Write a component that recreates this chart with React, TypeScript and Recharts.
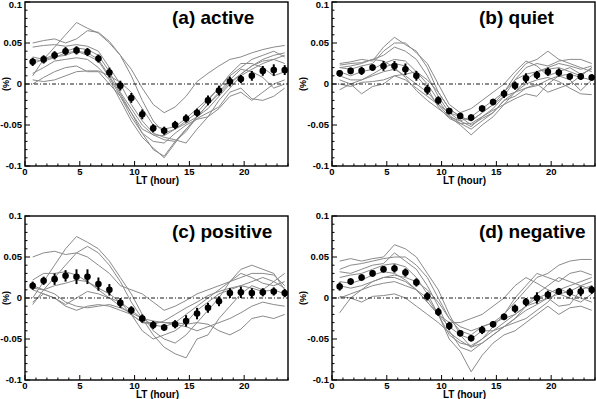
import React from "react";
import {
  ComposedChart,
  Line,
  XAxis,
  YAxis,
  ReferenceLine,
  ErrorBar,
} from "recharts";

// local time of each bin (hour)
const lt = [0.7, 1.7, 2.7, 3.7, 4.7, 5.7, 6.7, 7.7, 8.7, 9.7, 10.7, 11.7, 12.7, 13.7, 14.7, 15.7, 16.7, 17.7, 18.7, 19.7, 20.7, 21.7, 22.7, 23.7];

const hourTicks = [0, 1, 2, 3, 4, 5, 6, 7, 8, 9, 10, 11, 12, 13, 14, 15, 16, 17, 18, 19, 20, 21, 22, 23, 24];
const hourLabels = [0, 5, 10, 15, 20];
const pctTicks = [-0.1, -0.09, -0.08, -0.07, -0.06, -0.05, -0.04, -0.03, -0.02, -0.01, 0, 0.01, 0.02, 0.03, 0.04, 0.05, 0.06, 0.07, 0.08, 0.09, 0.1];
const pctLabels = [-0.1, -0.05, 0, 0.05, 0.1];

// (a) active
const activeMean = [0.027, 0.030, 0.035, 0.040, 0.041, 0.039, 0.031, 0.014, -0.002, -0.017, -0.037, -0.054, -0.057, -0.050, -0.042, -0.035, -0.020, -0.008, 0.003, 0.006, 0.010, 0.016, 0.017, 0.017];
const activeErr = [0.005, 0.005, 0.005, 0.005, 0.005, 0.005, 0.005, 0.006, 0.006, 0.006, 0.006, 0.005, 0.005, 0.005, 0.005, 0.005, 0.006, 0.006, 0.006, 0.005, 0.006, 0.006, 0.007, 0.006];
const activeLines = [
  [0.010, 0.030, 0.045, 0.060, 0.075, 0.068, 0.062, 0.050, 0.035, 0.018, -0.005, -0.025, -0.035, -0.028, -0.015, 0.003, 0.013, 0.022, 0.030, 0.033, 0.038, 0.042, 0.045, 0.047],
  [0.050, 0.053, 0.055, 0.050, 0.055, 0.065, 0.063, 0.052, 0.035, 0.010, -0.020, -0.045, -0.060, -0.055, -0.048, -0.040, -0.030, -0.015, 0.000, 0.012, 0.022, 0.030, 0.035, 0.038],
  [0.045, 0.047, 0.048, 0.046, 0.048, 0.046, 0.040, 0.020, 0.000, -0.025, -0.045, -0.060, -0.065, -0.068, -0.072, -0.055, -0.040, -0.020, -0.005, 0.010, 0.018, 0.025, 0.030, 0.035],
  [0.033, 0.030, 0.036, 0.040, 0.044, 0.042, 0.035, 0.015, -0.010, -0.030, -0.050, -0.062, -0.063, -0.055, -0.045, -0.035, -0.020, -0.005, 0.010, 0.020, 0.030, 0.035, 0.040, 0.033],
  [0.030, 0.028, 0.032, 0.038, 0.040, 0.038, 0.030, 0.010, -0.012, -0.035, -0.060, -0.080, -0.088, -0.070, -0.055, -0.040, -0.025, -0.012, 0.002, 0.012, 0.022, 0.028, 0.030, 0.025],
  [0.025, 0.030, 0.033, 0.035, 0.040, 0.035, 0.028, 0.008, -0.015, -0.040, -0.060, -0.070, -0.072, -0.060, -0.050, -0.043, -0.040, -0.030, -0.015, -0.010, -0.020, -0.010, 0.000, 0.005],
  [0.013, 0.020, 0.028, 0.030, 0.032, 0.030, 0.020, 0.005, -0.020, -0.045, -0.065, -0.078, -0.090, -0.072, -0.055, -0.042, -0.035, -0.028, -0.010, -0.005, -0.018, -0.020, -0.015, -0.005],
  [0.000, 0.008, 0.015, 0.020, 0.022, 0.015, 0.015, 0.000, -0.015, -0.035, -0.055, -0.062, -0.068, -0.070, -0.058, -0.040, -0.025, -0.010, 0.005, 0.018, 0.015, 0.008, -0.005, 0.000],
  [0.005, 0.003, 0.005, 0.010, 0.015, 0.016, 0.016, 0.010, 0.002, -0.010, -0.030, -0.050, -0.055, -0.052, -0.042, -0.030, -0.018, -0.005, 0.012, 0.025, 0.025, 0.020, 0.010, 0.015],
];

// (b) quiet
const quietMean = [0.013, 0.016, 0.016, 0.020, 0.022, 0.022, 0.018, 0.010, -0.007, -0.020, -0.033, -0.039, -0.041, -0.030, -0.022, -0.012, -0.002, 0.007, 0.011, 0.015, 0.014, 0.009, 0.009, 0.008];
const quietErr = [0.004, 0.004, 0.005, 0.004, 0.006, 0.006, 0.007, 0.006, 0.006, 0.005, 0.004, 0.004, 0.004, 0.004, 0.004, 0.005, 0.005, 0.006, 0.005, 0.005, 0.005, 0.004, 0.004, 0.004];
const quietLines = [
  [0.025, 0.027, 0.030, 0.028, 0.045, 0.057, 0.048, 0.040, 0.020, -0.010, -0.030, -0.040, -0.045, -0.035, -0.025, -0.010, 0.010, 0.025, 0.030, 0.040, 0.030, 0.025, 0.020, 0.015],
  [0.023, 0.025, 0.026, 0.030, 0.035, 0.045, 0.040, 0.030, 0.010, -0.015, -0.035, -0.045, -0.052, -0.040, -0.030, -0.015, 0.005, 0.020, 0.025, 0.022, 0.028, 0.030, 0.030, 0.025],
  [0.020, 0.018, 0.022, 0.025, 0.040, 0.050, 0.050, 0.038, 0.025, 0.000, -0.025, -0.035, -0.030, -0.020, -0.010, 0.000, 0.015, 0.028, 0.022, 0.010, 0.015, 0.020, 0.012, 0.018],
  [0.015, 0.010, 0.015, 0.018, 0.025, 0.030, 0.028, 0.015, 0.000, -0.020, -0.038, -0.048, -0.055, -0.045, -0.035, -0.020, -0.010, 0.005, 0.015, 0.018, 0.020, 0.015, 0.010, 0.020],
  [0.010, 0.005, 0.005, 0.010, 0.015, 0.018, 0.010, 0.000, -0.010, -0.025, -0.040, -0.050, -0.062, -0.050, -0.040, -0.025, -0.010, 0.000, 0.005, 0.008, 0.003, -0.005, -0.012, -0.013],
  [0.005, 0.000, -0.012, -0.003, 0.000, 0.010, 0.005, -0.005, -0.015, -0.025, -0.035, -0.040, -0.045, -0.035, -0.025, -0.015, -0.010, -0.005, 0.000, -0.010, -0.005, 0.000, 0.010, 0.020],
  [-0.007, 0.000, 0.005, 0.012, 0.020, 0.025, 0.022, 0.010, -0.005, -0.028, -0.042, -0.048, -0.048, -0.040, -0.032, -0.025, -0.018, -0.012, -0.015, 0.000, 0.010, 0.005, -0.008, 0.005],
  [0.020, 0.022, 0.025, 0.030, 0.028, 0.020, 0.008, -0.008, -0.020, -0.030, -0.040, -0.045, -0.040, -0.030, -0.020, -0.010, 0.005, 0.012, 0.015, 0.020, 0.025, 0.022, 0.018, 0.022],
  [0.000, -0.003, 0.002, 0.003, 0.005, 0.010, 0.012, 0.015, 0.005, -0.010, -0.030, -0.040, -0.050, -0.042, -0.035, -0.020, -0.015, -0.005, -0.002, 0.005, 0.010, 0.012, 0.008, 0.005],
];

// (c) positive
const positiveMean = [0.015, 0.021, 0.023, 0.027, 0.026, 0.026, 0.017, 0.010, -0.006, -0.015, -0.025, -0.033, -0.036, -0.032, -0.028, -0.019, -0.012, -0.004, 0.006, 0.007, 0.006, 0.007, 0.008, 0.006];
const positiveErr = [0.005, 0.005, 0.007, 0.007, 0.009, 0.009, 0.008, 0.007, 0.006, 0.005, 0.005, 0.005, 0.004, 0.005, 0.007, 0.007, 0.006, 0.006, 0.006, 0.007, 0.006, 0.005, 0.005, 0.005];
const positiveLines = [
  [0.050, 0.055, 0.057, 0.053, 0.055, 0.050, 0.040, 0.030, 0.015, 0.010, 0.005, -0.005, -0.015, -0.010, -0.003, 0.005, 0.010, 0.015, 0.020, 0.025, 0.030, 0.030, 0.028, 0.015],
  [0.000, 0.020, 0.040, 0.060, 0.075, 0.068, 0.060, 0.045, 0.025, 0.005, -0.020, -0.040, -0.050, -0.055, -0.045, -0.030, -0.015, 0.000, 0.020, 0.035, 0.040, 0.035, 0.030, 0.010],
  [-0.008, 0.010, 0.025, 0.040, 0.055, 0.063, 0.055, 0.040, 0.020, -0.005, -0.025, -0.045, -0.060, -0.068, -0.073, -0.050, -0.045, -0.025, -0.010, 0.005, 0.015, 0.010, 0.020, 0.030],
  [0.022, 0.030, 0.030, 0.032, 0.028, 0.020, 0.010, 0.000, -0.005, -0.015, -0.025, -0.033, -0.035, -0.030, -0.020, -0.010, 0.000, 0.010, 0.020, 0.030, 0.025, 0.018, 0.015, 0.020],
  [0.012, 0.010, 0.015, 0.018, 0.022, 0.020, 0.012, 0.005, -0.005, -0.020, -0.040, -0.050, -0.045, -0.040, -0.030, -0.015, -0.005, 0.005, 0.010, 0.015, 0.020, 0.025, 0.020, 0.012],
  [0.010, 0.005, 0.000, -0.008, 0.000, 0.008, 0.005, 0.000, -0.010, -0.020, -0.030, -0.032, -0.028, -0.020, -0.012, -0.005, 0.003, 0.008, 0.012, 0.015, 0.012, 0.008, 0.010, 0.005],
  [-0.005, 0.005, 0.000, -0.010, -0.015, -0.010, -0.008, -0.010, -0.015, -0.020, -0.030, -0.030, -0.030, -0.032, -0.035, -0.040, -0.035, -0.030, -0.025, -0.018, -0.010, -0.005, -0.008, -0.010],
  [0.015, 0.010, 0.005, -0.005, -0.010, -0.012, -0.010, -0.008, -0.012, -0.018, -0.025, -0.028, -0.030, -0.030, -0.032, -0.030, -0.032, -0.040, -0.045, -0.038, -0.025, -0.022, -0.025, -0.020],
];

// (d) negative
const negativeMean = [0.014, 0.020, 0.025, 0.030, 0.035, 0.036, 0.031, 0.019, 0.002, -0.017, -0.034, -0.043, -0.049, -0.039, -0.032, -0.023, -0.013, -0.005, 0.000, 0.004, 0.008, 0.007, 0.008, 0.010];
const negativeErr = [0.005, 0.004, 0.004, 0.004, 0.004, 0.005, 0.005, 0.005, 0.005, 0.005, 0.005, 0.004, 0.004, 0.005, 0.004, 0.004, 0.005, 0.005, 0.007, 0.005, 0.004, 0.005, 0.006, 0.005];
const negativeLines = [
  [0.045, 0.048, 0.045, 0.048, 0.050, 0.065, 0.060, 0.050, 0.030, 0.010, -0.020, -0.045, -0.060, -0.050, -0.035, -0.020, -0.005, 0.010, 0.025, 0.030, 0.040, 0.045, 0.047, 0.047],
  [0.035, 0.040, 0.042, 0.045, 0.048, 0.050, 0.050, 0.040, 0.025, 0.000, -0.025, -0.040, -0.045, -0.035, -0.030, -0.020, 0.000, 0.015, 0.030, 0.025, 0.020, 0.030, 0.033, 0.028],
  [0.032, 0.030, 0.035, 0.040, 0.042, 0.055, 0.045, 0.035, 0.015, -0.010, -0.040, -0.060, -0.065, -0.055, -0.045, -0.035, -0.025, -0.010, 0.005, 0.015, 0.025, 0.020, 0.015, 0.010],
  [0.025, 0.028, 0.030, 0.035, 0.040, 0.042, 0.038, 0.025, 0.005, -0.020, -0.045, -0.055, -0.058, -0.050, -0.040, -0.030, -0.020, -0.010, 0.000, 0.005, 0.012, 0.005, 0.000, -0.005],
  [0.020, 0.018, 0.022, 0.028, 0.032, 0.030, 0.022, 0.010, -0.005, -0.020, -0.030, -0.030, -0.025, -0.020, -0.010, 0.000, 0.015, 0.025, 0.018, 0.010, 0.005, 0.000, -0.005, 0.005],
  [0.015, 0.012, 0.015, 0.020, 0.025, 0.028, 0.025, 0.020, 0.010, -0.005, -0.025, -0.035, -0.040, -0.035, -0.030, -0.025, -0.020, -0.010, -0.005, 0.000, -0.010, -0.008, 0.010, 0.015],
  [0.000, 0.005, 0.010, 0.015, 0.018, 0.020, 0.015, 0.010, 0.000, -0.020, -0.050, -0.065, -0.090, -0.070, -0.055, -0.045, -0.040, -0.030, -0.020, -0.010, -0.020, -0.012, -0.010, -0.015],
  [-0.018, 0.000, 0.010, 0.020, 0.025, 0.025, 0.020, 0.010, -0.005, -0.020, -0.035, -0.045, -0.050, -0.040, -0.040, -0.035, -0.030, -0.025, -0.015, -0.005, 0.010, 0.015, 0.020, 0.025],
  [0.002, 0.000, -0.005, 0.002, 0.003, 0.005, 0.000, -0.010, -0.020, -0.030, -0.042, -0.052, -0.060, -0.055, -0.045, -0.035, -0.025, -0.015, -0.008, 0.000, 0.005, 0.008, 0.015, 0.020],
];

const FONT = "'Liberation Sans', Arial, Helvetica, sans-serif";
const PLOT_W = 263;
const PLOT_H = 164;
const X_AXIS_H = 34;

const near = (a: number, b: number) => Math.abs(a - b) < 1e-9;

function Panel({ left, top, padLeft, padTop, ylabelX, title, mean, err, lines }: any) {
  const rows = lt.map((x, i) => {
    const r: any = { lt: x, mean: mean[i], err: err[i] };
    lines.forEach((l: number[], k: number) => (r["g" + k] = l[i]));
    return r;
  });
  const bottom = padTop + PLOT_H;
  const width = padLeft + PLOT_W + 4;
  const height = bottom + X_AXIS_H;

  const xTick = (p: any) => {
    const v = p.payload.value;
    const major = v % 5 === 0;
    return (
      <g>
        <line x1={p.x} x2={p.x} y1={bottom} y2={bottom - (major ? 5 : 2.5)} stroke="#000" strokeWidth={1} />
        {hourLabels.includes(v) && (
          <text x={p.x} y={bottom + 8.5} textAnchor="middle" fontFamily={FONT} fontWeight="bold" fontSize={9.5} fill="#000">
            {v}
          </text>
        )}
      </g>
    );
  };

  const yTick = (p: any) => {
    const v = p.payload.value;
    const lab = pctLabels.find((l) => near(l, v));
    const major = lab !== undefined;
    // keep the top label inside the page
    const ty = Math.max(p.y, 4.5);
    return (
      <g>
        <line x1={padLeft} x2={padLeft + (major ? 5 : 2.5)} y1={p.y} y2={p.y} stroke="#000" strokeWidth={1} />
        {major && (
          <text x={padLeft - 3} y={ty} dy="0.35em" textAnchor="end" fontFamily={FONT} fontWeight="bold" fontSize={9.5} fill="#000">
            {lab === 0 ? "0" : String(lab)}
          </text>
        )}
      </g>
    );
  };

  return (
    <div style={{ position: "absolute", left, top, width, height }}>
      <ComposedChart
        width={width}
        height={height}
        data={rows}
        margin={{ top: padTop, right: 4, left: 0, bottom: 0 }}
      >
        <XAxis
          dataKey="lt"
          type="number"
          domain={[0, 24]}
          ticks={hourTicks}
          interval={0}
          height={X_AXIS_H}
          axisLine={false}
          tickLine={false}
          tick={xTick}
          allowDataOverflow
        />
        <YAxis
          type="number"
          domain={[-0.1, 0.1]}
          ticks={pctTicks}
          interval={0}
          width={padLeft}
          axisLine={false}
          tickLine={false}
          tick={yTick}
          allowDataOverflow
        />
        {lines.map((_: number[], k: number) => (
          <Line
            key={k}
            dataKey={"g" + k}
            stroke="#8a8a8a"
            strokeWidth={1}
            dot={false}
            isAnimationActive={false}
          />
        ))}
        <ReferenceLine y={0} stroke="#000" strokeWidth={0.9} strokeDasharray="4 2 1 2" />
        <Line
          dataKey="mean"
          stroke="none"
          dot={{ r: 3.3, fill: "#000", stroke: "#000", strokeWidth: 0 }}
          isAnimationActive={false}
        >
          <ErrorBar dataKey="err" direction="y" width={0} stroke="#000" strokeWidth={2} isAnimationActive={false} />
        </Line>
      </ComposedChart>
      <svg
        width={width}
        height={height}
        style={{ position: "absolute", left: 0, top: 0, pointerEvents: "none" }}
      >
        <rect x={padLeft} y={padTop} width={PLOT_W} height={PLOT_H} fill="none" stroke="#000" strokeWidth={1.4} />
        <text x={padLeft + 147} y={padTop + 21.5} fontFamily={FONT} fontWeight="bold" fontSize={19} fill="#000">
          {title}
        </text>
        <text
          x={padLeft + PLOT_W / 2 + 1}
          y={bottom + 17.5}
          textAnchor="middle"
          fontFamily={FONT}
          fontWeight="bold"
          fontSize={10}
          fill="#000"
        >
          LT (hour)
        </text>
        <text
          x={ylabelX}
          y={padTop + PLOT_H / 2}
          textAnchor="middle"
          dy="0.35em"
          transform={`rotate(-90 ${ylabelX} ${padTop + PLOT_H / 2})`}
          fontFamily={FONT}
          fontWeight="bold"
          fontSize={9}
          fill="#000"
        >
          (%)
        </text>
      </svg>
    </div>
  );
}

export default function App() {
  return (
    <div
      style={{
        position: "absolute",
        left: 0,
        top: 0,
        width: 596,
        height: 399,
        overflow: "hidden",
        background: "#fff",
      }}
    >
      <Panel left={0} top={0} padLeft={25} padTop={2} ylabelX={5.5} title="(a) active" mean={activeMean} err={activeErr} lines={activeLines} />
      <Panel left={296} top={0} padLeft={36} padTop={2} ylabelX={6.5} title="(b) quiet" mean={quietMean} err={quietErr} lines={quietLines} />
      <Panel left={0} top={206} padLeft={25} padTop={10} ylabelX={5.5} title="(c) positive" mean={positiveMean} err={positiveErr} lines={positiveLines} />
      <Panel left={296} top={206} padLeft={36} padTop={10} ylabelX={6.5} title="(d) negative" mean={negativeMean} err={negativeErr} lines={negativeLines} />
    </div>
  );
}
